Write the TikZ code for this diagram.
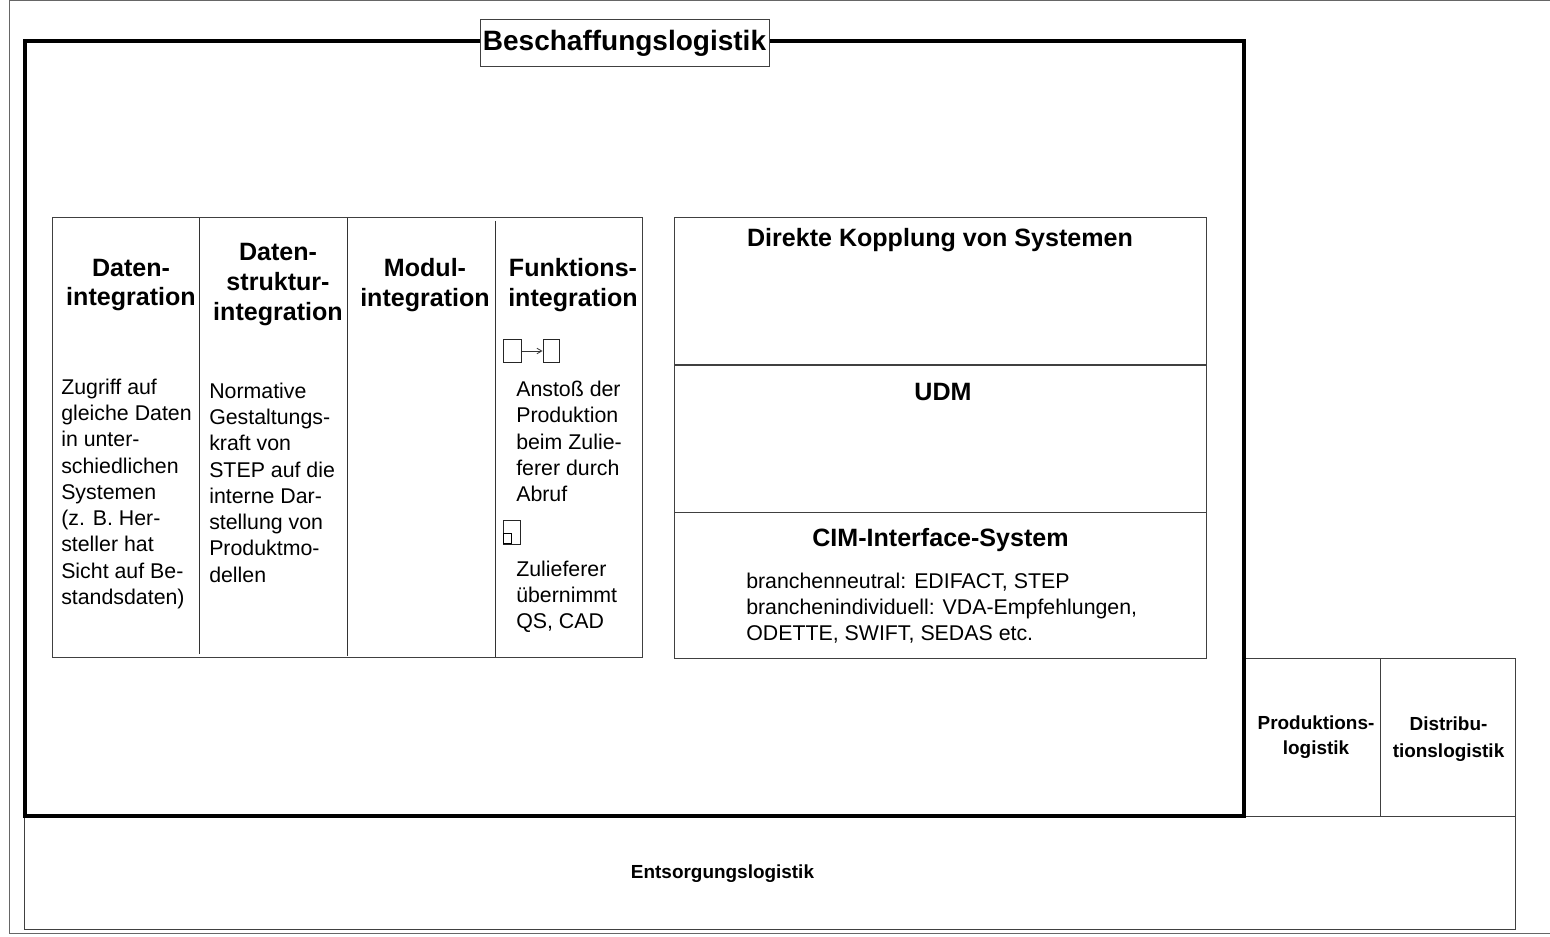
\documentclass[tikz,border=0pt]{standalone}
\usepackage{fontspec}
\setmainfont{Liberation Sans}
\usetikzlibrary{arrows}
\tikzset{
  box/.style={draw=black!75,rectangle,line width=.75pt,inner sep=0pt},
  frame/.style={draw=black,line width=2.6pt,miter limit=10},
  rule/.style={draw=black!80,line width=.75pt},
  head/.style={align=center,font=\fontsize{18.8}{22.2}\selectfont\bfseries,inner sep=0pt},
  sub/.style={align=center,font=\fontsize{18.8}{22}\selectfont\bfseries,inner sep=0pt},
  body/.style={align=left,anchor=north west,font=\fontsize{16}{19.7}\selectfont,inner sep=0pt},
  small/.style={align=center,font=\fontsize{14.2}{19}\selectfont\bfseries,inner sep=0pt},
}
\begin{document}
\begin{tikzpicture}[y=-0.75pt, x=0.75pt]
  \useasboundingbox (0,0) rectangle (1550,937);
 % aussen
  \coordinate (o1) at (1550,1);
  \coordinate (o2) at (9.5,1);
  \coordinate (o3) at (9.5,933);
  \coordinate (o4) at (1550,933);
  \draw[draw=black!60,line width=.75pt] (o1) -- (o2) -- (o3) -- (o4);
 % logistik
  \node (entsorgung) at (769.5,872.5) [box,minimum width=1118.25pt,minimum height=84.75pt] {};
  \node (produktion) at (1312.5,737) [box,minimum width=102pt,minimum height=118.5pt] {};
  \node (distribution) at (1448,737) [box,minimum width=101.25pt,minimum height=118.5pt] {};
  \node (beschaffung) at (634.5,428.5) [frame,rectangle,inner sep=0pt,minimum width=914.25pt,minimum height=581.25pt] {};
  \node (titel) at (624.5,43.5) [box,fill=white,minimum width=216.75pt,minimum height=35.25pt,font=\fontsize{21}{26}\selectfont\bfseries] {Beschaffungslogistik};
 % integration
  \node (panel) at (347,437.5) [box,minimum width=442.5pt,minimum height=329.25pt] {};
  \coordinate (d1a) at (199.5,218);
  \coordinate (d1b) at (199.5,654);
  \coordinate (d2a) at (347.5,218);
  \coordinate (d2b) at (347.5,656);
  \coordinate (d3a) at (495,221);
  \coordinate (d3b) at (495,657);
  \draw[rule] (d1a) -- (d1b);
  \draw[rule] (d2a) -- (d2b);
  \draw[rule] (d3a) -- (d3b);
  \node (h1) at (131,285) [head] {Daten-\\integration};
  \node (h2) at (278,284.5) [head] {Daten-\\struktur-\\integration};
  \node (h3) at (425,285) [head] {Modul-\\integration};
  \node (h4) at (573,285) [head] {Funktions-\\integration};
  \node (t1) at (61,378.5) [body] {Zugriff auf\\gleiche Daten\\in unter-\\schiedlichen\\Systemen\\(z. B. Her-\\steller hat\\Sicht auf Be-\\standsdaten)};
  \node (t2) at (209,382.5) [body] {Normative\\Gestaltungs-\\kraft von\\STEP auf die\\interne Dar-\\stellung von\\Produktmo-\\dellen};
  \node (t3) at (516,381) [body] {Anstoß der\\Produktion\\beim Zulie-\\ferer durch\\Abruf};
  \node (t4) at (516,560.5) [body] {Zulieferer\\übernimmt\\QS, CAD};
 % icons
  \node (i1) at (512.5,351) [box,draw=black!85,minimum width=13pt,minimum height=17pt] {};
  \node (i2) at (551,351) [box,draw=black!85,minimum width=12pt,minimum height=17pt] {};
  \path[->,draw=black!80,line width=.6pt,>=angle 60] (i1) edge (i2);
  \node (i3) at (512,532.5) [box,draw=black!85,minimum width=13pt,minimum height=17.5pt] {};
  \node (i4) at (507.5,539) [box,draw=black,minimum width=6pt,minimum height=7.5pt] {};
 % kopplung
  \node (k1) at (940,291.5) [box,minimum width=399pt,minimum height=110.25pt] {};
  \node (k2) at (940,439) [box,minimum width=399pt,minimum height=110.25pt] {};
  \node (k3) at (940,585.5) [box,minimum width=399pt,minimum height=109.5pt] {};
  \node (k1t) at (940,240.5) [sub] {Direkte Kopplung von Systemen};
  \node (k2t) at (943,392) [sub] {UDM};
  \node (k3t) at (940.5,540) [sub] {CIM-Interface-System};
  \node (k3b) at (746,572.5) [body] {branchenneutral: EDIFACT, STEP\\branchenindividuell: VDA-Empfehlungen,\\ODETTE, SWIFT, SEDAS etc.};
 % kleine
  \node (p1) at (1316,737) [small] {Produktions-\\logistik};
  \node (p2) at (1448.5,739) [small,font=\fontsize{14.2}{20}\selectfont\bfseries] {Distribu-\\tionslogistik};
  \node (p3) at (722.5,874) [small] {Entsorgungslogistik};
\end{tikzpicture}
\end{document}
